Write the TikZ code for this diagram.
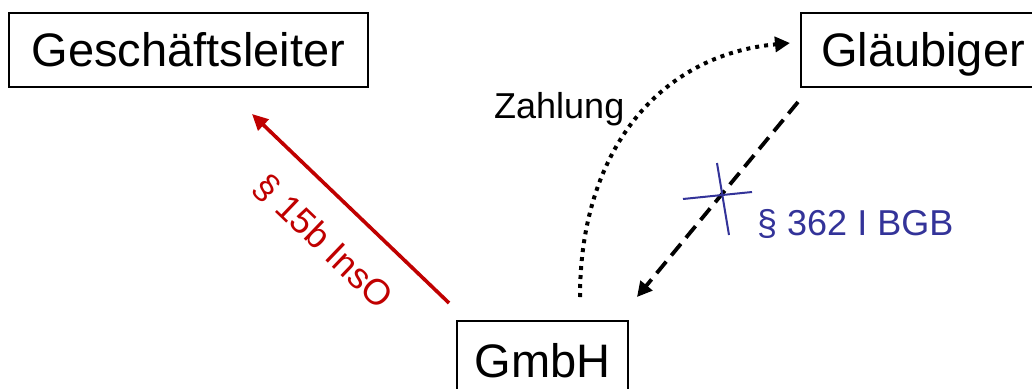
\documentclass[tikz,border=0pt]{standalone}
\usepackage{fontspec}
\setmainfont{Liberation Sans}
\usetikzlibrary{arrows.meta}
\definecolor{myred}{RGB}{192,0,0}
\definecolor{myblue}{RGB}{51,51,153}
\begin{document}
\begin{tikzpicture}[x=1pt,y=-1pt,
  box/.style={draw, line width=1.3pt, inner sep=0pt, font=\fontsize{47}{56}\selectfont,
    text height=33.7pt, text depth=0pt, minimum height=74pt},
  lbl/.style={font=\fontsize{36}{43}\selectfont, inner sep=0pt},
  redarrow/.style={draw=myred, line width=3.6pt, -{Triangle[length=16pt,width=15pt]}},
  dotarrow/.style={line width=4pt, dash pattern=on 4pt off 5pt, -{Triangle[length=15pt,width=15pt]}},
  dasharrow/.style={line width=3.8pt, dash pattern=on 15pt off 8pt, -{Triangle[length=15pt,width=15pt]}},
  crossline/.style={draw=myblue, line width=2pt}]
\useasboundingbox (0,0) rectangle (1032,388);
\fill[white] (0,0) rectangle (1032,388);
\node[box, minimum width=359pt] (gl) at (188.5,50) {Geschäftsleiter};
\node[box, minimum width=244pt] (gb) at (923,50) {Gläubiger};
\node[box, minimum width=171pt, minimum height=80pt] (gmbh) at (542.5,361) {GmbH};
% red arrow
\coordinate (r1) at (449,303);
\coordinate (r2) at (252,114);
\draw[redarrow] (r1) -- (r2);
\node[lbl, text=myred, rotate=-43.8] (law1) at (323,242) {§ 15b InsO};
% dotted payment arc
\coordinate (d1) at (580,297);
\coordinate (d2) at (790,43);
\draw[dotarrow] (d1) .. controls (580,150) and (660,55) .. (d2);
\node[lbl, anchor=base west] (pay) at (494,118) {Zahlung};
% dashed arrow
\coordinate (s1) at (798,102);
\coordinate (s2) at (637,297);
\draw[dasharrow] (s1) -- (s2);
% blue cross
\coordinate (c1) at (683,199);
\coordinate (c2) at (752,192);
\coordinate (c3) at (717,163);
\coordinate (c4) at (729,235);
\draw[crossline] (c1) -- (c2);
\draw[crossline] (c3) -- (c4);
\node[lbl, text=myblue, anchor=base west] (law2) at (757,235) {§ 362 I BGB};
\end{tikzpicture}
\end{document}
